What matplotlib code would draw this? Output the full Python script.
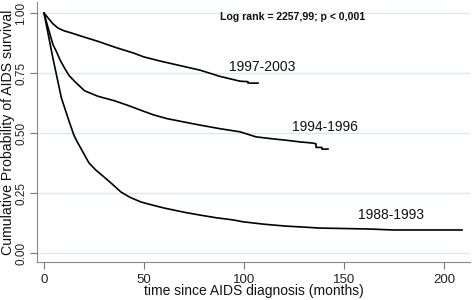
import matplotlib.pyplot as plt

# Kaplan-Meier estimates (months, survival)
t_9703 = [0, 1.5, 2.8, 4.5, 7, 10, 13.7, 20, 27, 36, 44.5, 50, 58, 68, 78, 88, 98, 102, 102, 107]
s_9703 = [1.0, 0.985, 0.972, 0.955, 0.9375, 0.926, 0.917, 0.90, 0.882, 0.856, 0.834, 0.817, 0.800, 0.781,
          0.762, 0.736, 0.716, 0.714, 0.708, 0.708]

t_9496 = [0, 2, 4.5, 6.2, 8, 10.3, 12.5, 15.3, 20.3, 27, 35, 42, 50, 55, 61.5, 70, 78, 88, 98,
          106, 114, 121, 128, 134.5, 136, 136, 139, 139, 142]
s_9496 = [1.0, 0.94, 0.868, 0.84, 0.805, 0.77, 0.74, 0.715, 0.676, 0.653, 0.635, 0.615, 0.59, 0.575, 0.56,
          0.546, 0.533, 0.518, 0.505, 0.484, 0.476, 0.47, 0.463, 0.458, 0.455, 0.44, 0.44, 0.433, 0.433]

t_8893 = [0, 4.5, 8.7, 12.5, 15, 16.5, 19.5, 22.5, 26, 30, 34, 38.5, 43, 48.5, 55, 60, 70, 78, 86,
          94.5, 99.5, 110, 121, 130, 137.5, 150, 162.5, 174.5, 190, 209]
s_8893 = [1.0, 0.81, 0.646, 0.55, 0.49, 0.465, 0.42, 0.375, 0.345, 0.317, 0.288, 0.254, 0.232,
          0.2125, 0.198, 0.1875, 0.17, 0.158, 0.147, 0.138, 0.13, 0.12, 0.112, 0.108, 0.104, 0.102, 0.1,
          0.096, 0.096, 0.096]

curves = [(t_9703, s_9703, '1997-2003', 109, 0.775),
          (t_9496, s_9496, '1994-1996', 140.5, 0.525),
          (t_8893, s_8893, '1988-1993', 173.5, 0.158)]

x_ticks = [0, 50, 100, 150, 200]
y_ticks = [0.0, 0.25, 0.5, 0.75, 1.0]

plt.rcParams['font.family'] = ['Liberation Sans', 'DejaVu Sans']

fig = plt.figure(figsize=(4.72, 3.0), dpi=100)
ax = fig.add_axes([37 / 472, 38 / 300, 433 / 472, 260 / 300])

for t, s, lab, lx, ly in curves:
    ax.plot(t, s, color='black', lw=1.2, solid_joinstyle='round')
    ax.text(lx, ly, lab, fontsize=10, ha='center', va='center', color='#111111')

ax.text(124.5, 0.985, 'Log rank = 2257,99; p < 0,001', fontsize=7.6, fontweight='bold',
        ha='center', va='center', color='#111111')

ax.set_xlim(-3.5, 213)
ax.set_ylim(-0.0375, 1.046)
ax.set_xticks(x_ticks)
ax.set_yticks(y_ticks)
ax.set_yticklabels([f'{v:.2f}' for v in y_ticks], rotation=90, va='center')
ax.tick_params(axis='both', colors='#777777', labelcolor='#222222', length=5, width=0.8)
ax.tick_params(axis='x', labelsize=9.5)
ax.tick_params(axis='y', labelsize=8.5, pad=2)
ax.grid(axis='y', color='#dde8ec', lw=1)
ax.set_axisbelow(True)
for side in ['top', 'right']:
    ax.spines[side].set_visible(False)
for side in ['left', 'bottom']:
    ax.spines[side].set_color('#888888')
    ax.spines[side].set_linewidth(0.8)

ax.set_xlabel('time since AIDS diagnosis (months)', fontsize=10, labelpad=-1, color='#111111')
ax.set_ylabel('Cumulative Probability of AIDS survival', fontsize=10.2, labelpad=0, color='#111111')

fig.savefig('out.png', dpi=100)
